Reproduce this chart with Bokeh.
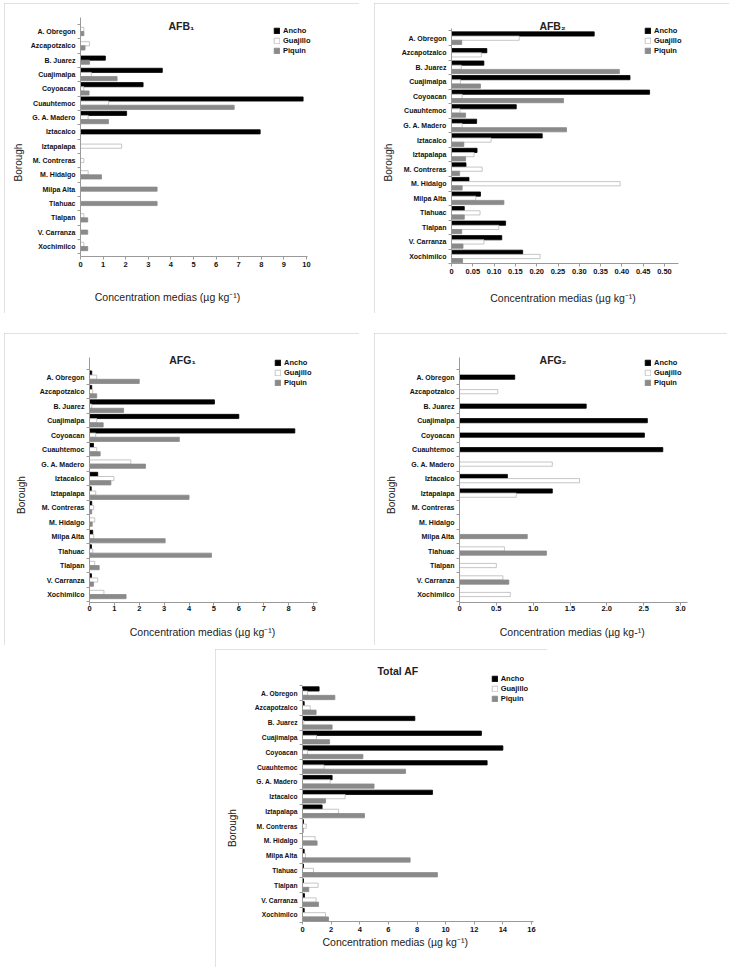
import math
from bokeh.plotting import figure
from bokeh.models import (ColumnDataSource, FixedTicker, Legend, LegendItem, Label,
                          Range1d, Spacer)
from bokeh.layouts import column, row
from bokeh.embed import file_html
from bokeh.resources import INLINE

# ---------------- data ----------------
boroughs = ["A. Obregon", "Azcapotzalco", "B. Juarez", "Cuajimalpa", "Coyoacan",
            "Cuauhtemoc", "G. A. Madero", "Iztacalco", "Iztapalapa", "M. Contreras",
            "M. Hidalgo", "Milpa Alta", "Tlahuac", "Tlalpan", "V. Carranza", "Xochimilco"]
series = ["Ancho", "Guajillo", "Piquin"]

afb1_ancho = [0, 0, 1.10, 3.62, 2.77, 9.85, 2.04, 7.95, 0, 0, 0, 0, 0, 0, 0, 0]
afb1_guajillo = [0.15, 0.40, 0, 0.48, 0.15, 1.24, 0.34, 0, 1.82, 0.15, 0.34, 0, 0, 0.15, 0, 0.15]
afb1_piquin = [0.15, 0.20, 0.40, 1.62, 0.38, 6.80, 1.24, 0, 0, 0, 0.93, 3.39, 3.39, 0.32, 0.32, 0.32]

afb2_ancho = [0.335, 0.083, 0.076, 0.419, 0.465, 0.152, 0.059, 0.213, 0.060, 0.034,
              0.041, 0.068, 0.030, 0.127, 0.118, 0.167]
afb2_guajillo = [0.159, 0.070, 0.023, 0.021, 0.025, 0.020, 0.025, 0.093, 0.053, 0.072,
                 0.396, 0.057, 0.067, 0.111, 0.076, 0.208]
afb2_piquin = [0.024, 0, 0.394, 0.068, 0.263, 0.033, 0.270, 0.029, 0.033, 0.019,
               0.025, 0.123, 0.030, 0.024, 0.027, 0.026]

afg1_ancho = [0.09, 0.09, 5.02, 6.00, 8.25, 0.16, 0, 0.33, 0.07, 0.09, 0, 0.13, 0.08, 0, 0.08, 0]
afg1_guajillo = [0.29, 0.13, 0.09, 0.29, 0.25, 0.29, 1.66, 0.98, 0.25, 0.17, 0.21, 0.17, 0.13, 0.21, 0.33, 0.58]
afg1_piquin = [2.00, 0.29, 1.37, 0.55, 3.61, 0.43, 2.25, 0.86, 4.00, 0.09, 0.11, 3.04, 4.90, 0.39, 0.16, 1.47]

afg2_ancho = [0.75, 0, 1.72, 2.55, 2.51, 2.76, 0, 0.65, 1.26, 0, 0, 0, 0, 0, 0, 0]
afg2_guajillo = [0, 0.52, 0, 0, 0, 0, 1.26, 1.63, 0.77, 0, 0, 0, 0.61, 0.50, 0.59, 0.69]
afg2_piquin = [0, 0, 0, 0, 0, 0, 0, 0, 0, 0, 0, 0.92, 1.18, 0, 0.67, 0]

total_ancho = [1.16, 0.12, 7.85, 12.5, 14.0, 12.9, 2.07, 9.08, 1.37, 0.07, 0, 0.12, 0.07, 0.07, 0.14, 0.12]
total_guajillo = [0.35, 0.54, 0.09, 0.98, 0.35, 1.51, 1.93, 2.98, 2.52, 0.26, 0.88, 0.21, 0.77, 1.09, 0.95, 1.61]
total_piquin = [2.26, 0.95, 2.07, 1.89, 4.22, 7.20, 5.00, 1.61, 4.33, 0.05, 1.02, 7.52, 9.43, 0.44, 1.12, 1.82]

afb1_ticks = [0, 1, 2, 3, 4, 5, 6, 7, 8, 9, 10]
afb1_labels = ["0", "1", "2", "3", "4", "5", "6", "7", "8", "9", "10"]
afb2_ticks = [0, 0.05, 0.10, 0.15, 0.20, 0.25, 0.30, 0.35, 0.40, 0.45, 0.50]
afb2_labels = ["0", "0.05", "0.10", "0.15", "0.20", "0.25", "0.30", "0.35", "0.40", "0.45", "0.50"]
afg1_ticks = [0, 1, 2, 3, 4, 5, 6, 7, 8, 9]
afg1_labels = ["0", "1", "2", "3", "4", "5", "6", "7", "8", "9"]
afg2_ticks = [0, 0.5, 1.0, 1.5, 2.0, 2.5, 3.0]
afg2_labels = ["0", "0.5", "1.0", "1.5", "2.0", "2.5", "3.0"]
total_ticks = [0, 2, 4, 6, 8, 10, 12, 14, 16]
total_labels = ["0", "2", "4", "6", "8", "10", "12", "14", "16"]

# ---------------- style ----------------
FONT = "Liberation Sans"
AXIS_GRAY = "#9a9a9a"
FILL = {"Ancho": "#000000", "Guajillo": "#ffffff", "Piquin": "#8a8a8a"}
LINE = {"Ancho": "#000000", "Guajillo": "#b8b8b8", "Piquin": "#8a8a8a"}
BAR_H = 0.29
N = len(boroughs)


def make_panel(vals, xticks, xlabels, xtitle, ttl, box, xmap, ymap, title_xy, leg_xy,
               xtitle_xy, ylab_xy, x_tick_std=2, ylab_size="7px"):
    bx, by, W, H = box
    px0, px_ref, v_ref, px_axis_end = xmap          # pixel of 0, pixel of ref value, axis end pixel
    py_top_cat, py_bot_cat, py_axis_top, py_axis_bot = ymap
    kx = v_ref / (px_ref - px0)                       # data per px
    ky = (N - 1) / (py_bot_cat - py_top_cat)          # data per px (downwards)

    def xd(px):
        return (px - px0) * kx

    def yd(py):
        return (N - 1) - (py - py_top_cat) * ky

    p = figure(width=W, height=H, x_range=Range1d(xd(bx), xd(bx + W)),
               y_range=Range1d(yd(by + H), yd(by)),
               output_backend="svg", toolbar_location=None, title=None,
               min_border=0, min_border_left=0, min_border_right=0,
               min_border_top=0, min_border_bottom=0)
    p.styles = {"outline": "1px solid #c4c4c4", "outline-offset": "-1px"}
    p.outline_line_color = None
    p.xgrid.visible = False
    p.ygrid.visible = False
    p.background_fill_color = "white"
    p.border_fill_color = "white"

    renderers = {}
    for si, s in enumerate(series):
        ys, xs = [], []
        for i in range(N):
            nz = [k for k in range(3) if vals[k][i] > 0]
            if si not in nz:
                continue
            k = nz.index(si)
            n = len(nz)
            ys.append((N - 1 - i) + ((n - 1) / 2 - k) * BAR_H)
            xs.append(vals[si][i])
        src = ColumnDataSource(dict(y=ys, x=xs))
        renderers[s] = p.hbar(y="y", left=0, right="x", height=BAR_H, source=src,
                              fill_color=FILL[s], line_color=LINE[s], line_width=0.8)

    y_lo, y_hi = yd(py_axis_bot), yd(py_axis_top)
    x_hi = xd(px_axis_end)

    # y axis, drawn at x = 0
    ya = p.yaxis[0]
    ya.fixed_location = 0
    ya.bounds = (y_lo, y_hi)
    ya.ticker = FixedTicker(ticks=list(range(N)),
                            minor_ticks=[k + 0.5 for k in range(-1, N)])
    ya.major_label_overrides = {N - 1 - i: b for i, b in enumerate(boroughs)}
    ya.major_tick_out = 0
    ya.major_tick_in = 0
    ya.minor_tick_out = 3
    ya.minor_tick_in = 0
    ya.minor_tick_line_color = AXIS_GRAY
    ya.axis_line_color = AXIS_GRAY
    ya.major_label_text_font = FONT
    ya.major_label_text_font_style = "bold"
    ya.major_label_text_font_size = ylab_size
    ya.major_label_text_color = "#111111"
    ya.major_label_standoff = 2

    # x axis, drawn at the bottom of the y axis
    xa = p.xaxis[0]
    xa.fixed_location = y_lo
    xa.bounds = (0, x_hi)
    xa.ticker = FixedTicker(ticks=xticks, minor_ticks=[])
    xa.major_label_overrides = {t: l for t, l in zip(xticks, xlabels)}
    xa.major_tick_out = 3
    xa.major_tick_in = 0
    xa.major_tick_line_color = AXIS_GRAY
    xa.axis_line_color = AXIS_GRAY
    xa.major_label_text_font = FONT
    xa.major_label_text_font_style = "bold"
    xa.major_label_text_font_size = "7.5px"
    xa.major_label_text_color = "#111111"
    xa.major_label_standoff = x_tick_std

    p.add_layout(Label(x=xd(title_xy[0]), y=yd(title_xy[1]), text=ttl,
                       text_align="center", text_baseline="middle",
                       text_font=FONT, text_font_style="bold",
                       text_font_size="10.5px", text_color="#222222"))
    p.add_layout(Label(x=xd(xtitle_xy[0]), y=yd(xtitle_xy[1]), text=xtitle,
                       text_align="center", text_baseline="middle",
                       text_font=FONT, text_font_size="10.5px", text_color="#222222"))
    p.add_layout(Label(x=xd(ylab_xy[0]), y=yd(ylab_xy[1]), text="Borough",
                       angle=math.pi / 2, text_align="center", text_baseline="middle",
                       text_font=FONT, text_font_size="10px", text_color="#222222"))

    gh, sp, row_h = 7, 1, 9.5
    leg_h = 3 * row_h + 2 * sp
    leg_top = leg_xy[1] - row_h / 2
    legend = Legend(items=[LegendItem(label=s, renderers=[renderers[s]]) for s in series],
                    location=(leg_xy[0] - bx, by + H - (leg_top + leg_h)),
                    orientation="vertical", padding=0, margin=0, spacing=sp,
                    glyph_width=gh, glyph_height=gh, label_height=gh, label_standoff=3,
                    label_text_font=FONT, label_text_font_style="bold",
                    label_text_font_size="7.5px", label_text_color="#111111",
                    border_line_color=None, background_fill_alpha=0)
    p.add_layout(legend)
    return p


XT = "Concentration medias (µg kg⁻¹)"
XT4 = "Concentration medias (µg kg-¹)"

p1 = make_panel([afb1_ancho, afb1_guajillo, afb1_piquin], afb1_ticks, afb1_labels, XT, "AFB₁",
                (4, 3, 355, 310), (80, 306, 10, 307), (31, 246, 17, 256),
                (181, 25), (273, 29.5), (167, 296), (18, 162), x_tick_std=2)
p2 = make_panel([afb2_ancho, afb2_guajillo, afb2_piquin], afb2_ticks, afb2_labels, XT, "AFB₂",
                (374, 3, 355, 310), (451, 664, 0.5, 678), (37.7, 256, 28.3, 263.3),
                (552, 25), (644, 29.5), (562.5, 297), (388, 162), x_tick_std=2)
p3 = make_panel([afg1_ancho, afg1_guajillo, afg1_piquin], afg1_ticks, afg1_labels, XT, "AFG₁",
                (4, 333, 355, 312), (89, 313, 9, 317), (376.7, 594, 357, 602),
                (182, 359), (274, 361.7), (202, 631), (21, 494.5), x_tick_std=0)
p4 = make_panel([afg2_ancho, afg2_guajillo, afg2_piquin], afg2_ticks, afg2_labels, XT4, "AFG₂",
                (374, 333, 353, 312), (459, 680, 3.0, 687), (376.7, 594, 357, 602),
                (552.5, 359), (644, 361.7), (571.7, 631), (391, 494.5), x_tick_std=0)
p5 = make_panel([total_ancho, total_guajillo, total_piquin], total_ticks, total_labels, XT, "Total AF",
                (215, 649, 332, 318), (302, 531, 16, 533), (692.7, 914.3, 688, 921),
                (397.5, 670), (490.7, 677.2), (394.7, 941), (232, 827.5), x_tick_std=2,
                ylab_size="6.7px")

layout = column(
    Spacer(width=10, height=3),
    row(Spacer(width=4, height=310), p1, Spacer(width=15, height=310), p2),
    Spacer(width=10, height=20),
    row(Spacer(width=4, height=312), p3, Spacer(width=15, height=312), p4),
    Spacer(width=10, height=4),
    row(Spacer(width=215, height=318), p5),
)

open("out.html", "w").write(file_html(layout, INLINE))
